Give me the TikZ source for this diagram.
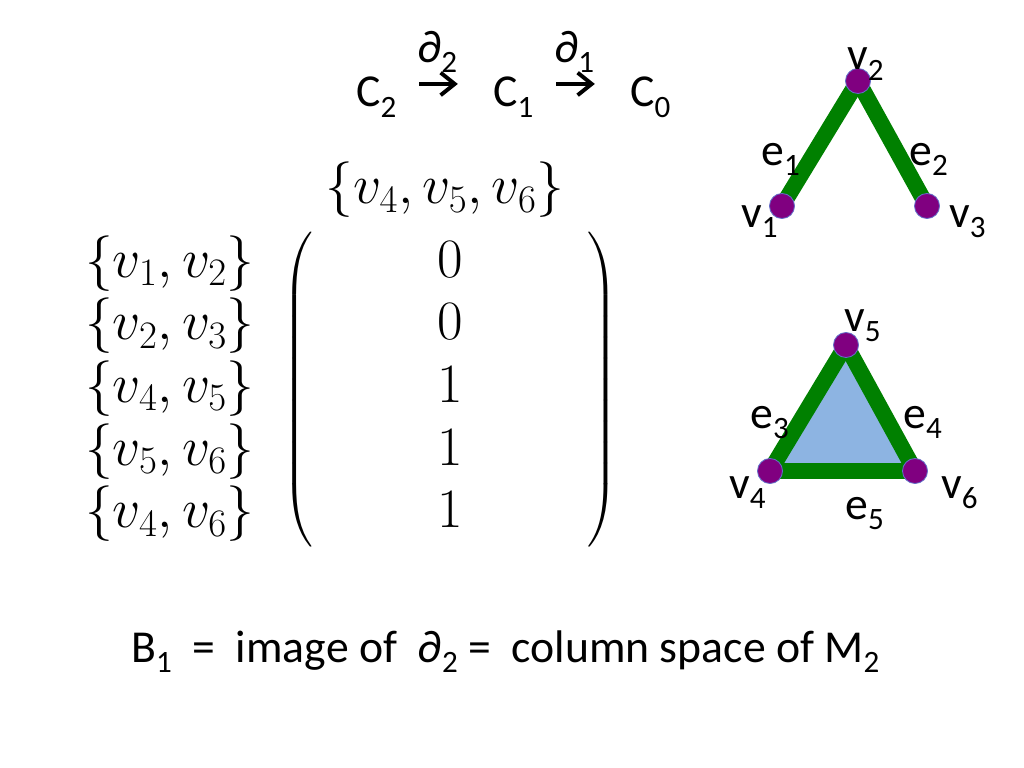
\RequirePackage{fix-cm}
\documentclass[tikz,border=0pt]{standalone}
\usepackage[no-math]{fontspec}
\usepackage{amsmath}
\usepackage{graphicx}
\usepackage{tikz}
\usetikzlibrary{arrows.meta, backgrounds}
\newfontfamily\calib{Carlito}
\definecolor{cxGreen}{RGB}{0, 128, 0}
\definecolor{cxPurple}{RGB}{128, 0, 128}
\definecolor{cxRim}{RGB}{100, 110, 200}
\definecolor{cxFace}{RGB}{141, 180, 226}
\newcommand{\lo}[1]{\raisebox{-0.22em}{\scalebox{0.68}{#1}}}
\tikzset{
    txt/.style={
        font=\calib\fontsize{32.5}{39}\selectfont,
        inner sep=0pt
    },
    lbl/.style={
        txt,
        anchor=base west
    },
    vertex/.style={
        circle,
        draw=cxRim,
        line width=0.6pt,
        fill=cxPurple,
        minimum size=17.8pt,
        inner sep=0pt
    },
    rib/.style={
        draw=cxGreen,
        line width=11.4pt
    },
    tri/.style={
        fill=cxFace
    },
    map/.style={
        line width=2.8pt,
        -{Straight Barb[length=10pt, width=16pt]},
        shorten <=16pt,
        shorten >=25pt
    },
    mathtext/.style={
        font=\fontsize{39.5}{44.5}\selectfont,
        inner sep=0pt
    }
}

\begin{document}
\begin{tikzpicture}[x=0.025cm, y=-0.025cm]
    \useasboundingbox (0,0) rectangle (1024,768);

    % Chain complex
    \node[lbl] (C2) at (356,107) {C\lo{2}};
    \node[lbl] (C1) at (493,107) {C\lo{1}};
    \node[lbl] (C0) at (630,107) {C\lo{0}};
    \draw[map] ([yshift=16.4pt]C2.base east) -- ([yshift=16.4pt]C1.base west)
        node[txt, pos=.42, anchor=base, yshift=15pt] (d2) {∂\lo{2}};
    \draw[map] ([yshift=16.4pt]C1.base east) -- ([yshift=16.4pt]C0.base west)
        node[txt, pos=.42, anchor=base, yshift=15pt] (d1) {∂\lo{1}};

    % Boundary matrix
    \node[mathtext] (mat) at (450,390) {$\left(\begin{array}{c}\makebox[185pt]{$0$}\\0\\1\\1\\1\end{array}\right)$};
    \node[mathtext, anchor=east] (rows) at (255,390) {$\begin{array}{@{}r@{}}\{v_1,v_2\}\\\{v_2,v_3\}\\\{v_4,v_5\}\\\{v_5,v_6\}\\\{v_4,v_6\}\end{array}$};
    \node[mathtext] (head) at (445,190) {$\{v_4,v_5,v_6\}$};

    % Path v1 v2 v3
    \node[vertex] (v1) at (782,206) {};
    \node[vertex] (v2) at (858,81) {};
    \node[vertex] (v3) at (927,206) {};

    % Filled triangle v4 v5 v6
    \node[vertex] (v4) at (770,471) {};
    \node[vertex] (v5) at (846,345) {};
    \node[vertex] (v6) at (915,471) {};

    \begin{scope}[on background layer]
        \fill[tri] (v4.center) -- (v5.center) -- (v6.center) -- cycle;
        \draw[rib] (v1.center) -- (v2.center);
        \draw[rib] (v2.center) -- (v3.center);
        \draw[rib] (v4.center) -- (v5.center);
        \draw[rib] (v5.center) -- (v6.center);
        \draw[rib] (v6.center) -- (v4.center);
    \end{scope}

    \node[lbl] (l2) at (847,70) {v\lo{2}};
    \node[lbl] (l1) at (741,227) {v\lo{1}};
    \node[lbl] (l3) at (949,227) {v\lo{3}};
    \node[lbl] (e1) at (761,165) {e\lo{1}};
    \node[lbl] (e2) at (909,165) {e\lo{2}};

    \node[lbl] (l5) at (844,331) {v\lo{5}};
    \node[lbl] (l4) at (729,498) {v\lo{4}};
    \node[lbl] (l6) at (941,498) {v\lo{6}};
    \node[lbl] (e3) at (750,428) {e\lo{3}};
    \node[lbl] (e4) at (903,428) {e\lo{4}};
    \node[lbl] (e5) at (845,519) {e\lo{5}};

    % Image of the boundary
    \node[lbl] (eq) at (131,662) {B\lo{1}\ \ =\ \ image of\ \ ∂\lo{2}\ =\ \ column space of M\lo{2}};
\end{tikzpicture}
\end{document}
